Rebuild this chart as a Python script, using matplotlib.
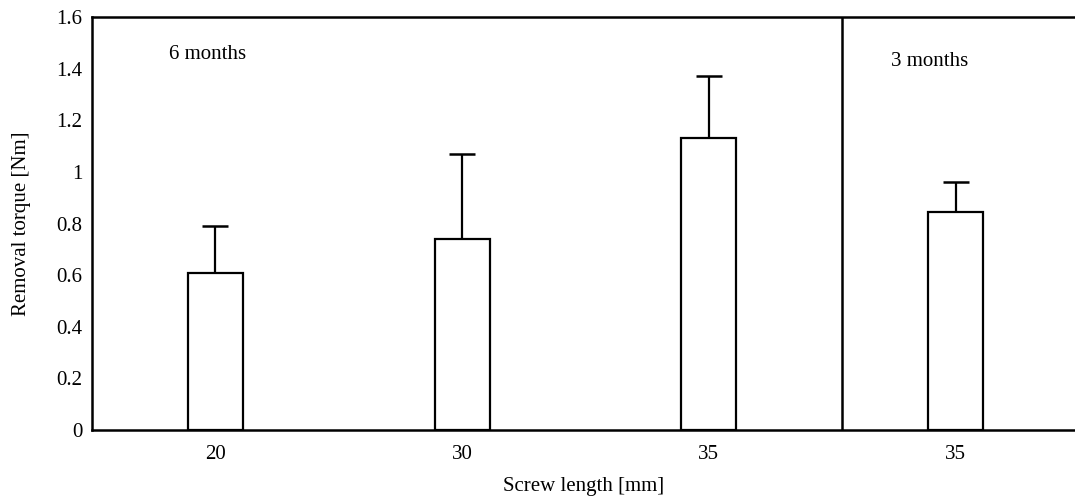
import matplotlib
matplotlib.use('Agg')
import matplotlib.pyplot as plt
import numpy as np

FONT = 'Liberation Serif'
FONT_SIZE = 15

# data
screw_labels = ['20', '30', '35', '35']
mean_torque = [0.61, 0.74, 1.13, 0.845]
sd_torque = [0.18, 0.33, 0.24, 0.115]
group_labels = ['6 months', '3 months']
y_ticks = [0, 0.2, 0.4, 0.6, 0.8, 1, 1.2, 1.4, 1.6]

plt.rcParams['font.family'] = [FONT, 'DejaVu Serif']
plt.rcParams['font.size'] = FONT_SIZE

fig = plt.figure(figsize=(10.75, 4.99), dpi=100)
ax = fig.add_axes([0.0856, 0.138, 0.9144, 0.828])

x = np.arange(len(mean_torque))
ax.errorbar(x, mean_torque, yerr=[np.zeros(len(sd_torque)), sd_torque],
            fmt='none', ecolor='black', elinewidth=1.6, capsize=9.7,
            capthick=1.8, zorder=1)
ax.bar(x, mean_torque, width=0.223, color='white', edgecolor='black',
       linewidth=1.6, zorder=2)

# separator between the two follow-up groups
ax.axvline(2.54, color='black', linewidth=1.8, zorder=3)

ax.text(-0.03, 1.453, group_labels[0], ha='center', va='center', fontsize=FONT_SIZE)
ax.text(2.896, 1.426, group_labels[1], ha='center', va='center', fontsize=FONT_SIZE)

ax.set_xlim(-0.5, 3.484)
ax.set_ylim(0, 1.6)
ax.set_xticks(x)
ax.set_xticklabels(screw_labels)
ax.set_yticks(y_ticks)
ax.set_yticklabels(['{:g}'.format(v) for v in y_ticks])
ax.tick_params(axis='both', length=0, labelsize=FONT_SIZE)
ax.tick_params(axis='y', pad=7)
ax.tick_params(axis='x', pad=11)

ax.spines['right'].set_visible(False)
for side in ['left', 'top', 'bottom']:
    ax.spines[side].set_linewidth(1.8)

ax.set_xlabel('Screw length [mm]', fontsize=FONT_SIZE, labelpad=9)
ax.set_ylabel('Removal torque [Nm]', fontsize=FONT_SIZE, labelpad=18)

fig.savefig('out.png', dpi=100)
